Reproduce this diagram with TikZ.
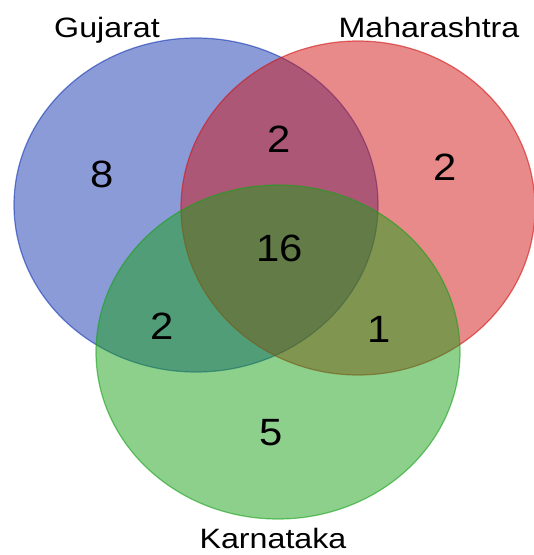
\documentclass[tikz,border=0pt]{standalone}
\usepackage{fontspec}
\setmainfont{Liberation Sans}
\usetikzlibrary{positioning}

\definecolor{gujblue}{RGB}{21,55,177}
\definecolor{mahred}{RGB}{209,21,21}
\definecolor{kargreen}{RGB}{25,161,25}
\newcommand{\widelabel}[1]{\scalebox{1.15}[1]{#1}}
\newcommand{\widecount}[1]{\scalebox{1.1}[1]{#1}}

\begin{document}
\begin{tikzpicture}[x=1pt,y=-1pt,
  vennset/.style={fill opacity=0.5, draw opacity=0.6, line width=1.2pt},
  setname/.style={anchor=base, inner sep=0pt, font=\fontsize{28}{28}\selectfont},
  count/.style={inner sep=0pt, font=\fontsize{38}{38}\selectfont}]
\useasboundingbox (0,0) rectangle (534,555);
\clip (0,0) rectangle (534,555);
% the three sets
\draw[vennset, fill=gujblue, draw=gujblue](196,205) ellipse [x radius=182, y radius=167];
\draw[vennset, fill=mahred, draw=mahred](358,208) ellipse [x radius=177, y radius=167];
\draw[vennset, fill=kargreen, draw=kargreen](278,352) ellipse [x radius=182, y radius=167];
% set names
\node[setname] (guj) at (107,37) {\widelabel{Gujarat}};
\node[setname] (mah) at (429,37) {\widelabel{Maharashtra}};
\node[setname] (kar) at (273,548) {\widelabel{Karnataka}};
% counts
\node[count] (onlyG) at (102,174) {\widecount{8}};
\node[count] (onlyM) at (445,167) {\widecount{2}};
\node[count] (onlyK) at (271,433) {\widecount{5}};
\node[count] (GM) at (279,139) {\widecount{2}};
\node[count] (GK) at (162,326) {\widecount{2}};
\node[count] (MK) at (379,329) {\widecount{1}};
\node[count] (GMK) at (280,248) {\widecount{16}};
\end{tikzpicture}
\end{document}
